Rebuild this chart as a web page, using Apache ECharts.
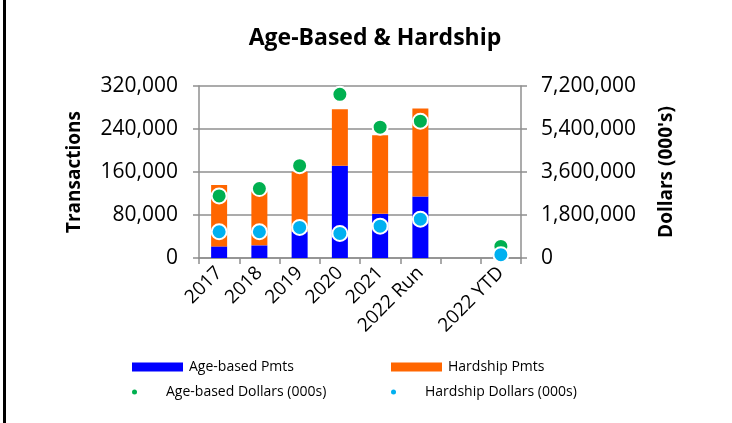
<!DOCTYPE html>
<html>
<head>
<meta charset="utf-8">
<script src="https://cdn.jsdelivr.net/npm/echarts@6/dist/echarts.min.js"></script>
<style>
  html, body { margin: 0; padding: 0; background: #fff; }
  #chart { width: 732px; height: 423px; }
</style>
</head>
<body>
<div id="chart"></div>
<script>
const categories = ['2017', '2018', '2019', '2020', '2021', '2022 Run', '', '2022 YTD']
const ageBasedPmts = [21600, 23500, 49400, 171700, 82200, 114300, null, 3000]
const hardshipPmts = [114300, 100000, 111200, 105100, 146400, 163700, null, 2000]
const ageBasedDollars = [2599000, 2905000, 3864000, 6852000, 5476000, 5726000, null, 486000]
const hardshipDollars = [1098000, 1098000, 1279000, 1029000, 1334000, 1626000, null, 139000]

const FONT = '"Open Sans", "Noto Sans", sans-serif'
const gray = '#8f8f8f'

const chart = echarts.init(document.getElementById('chart'))

// one legend per entry so they sit in a 2x2 block like the original
function legendItem(name, left, top, h, icon) {
  return {
    data: [{ name: name, icon: icon }],
    left: left,
    top: top,
    padding: 0,
    itemWidth: 51,
    itemHeight: h,
    itemGap: 0,
    selectedMode: false,
    itemStyle: { borderWidth: 0 },
    textStyle: { fontFamily: FONT, fontSize: 14, color: '#000', padding: [0, 0, 0, 1] }
  }
}

chart.setOption({
  animation: false,
  title: {
    text: 'Age-Based & Hardship',
    left: 370,
    textAlign: 'center',
    top: 22,
    textStyle: { fontFamily: FONT, fontSize: 23, fontWeight: 'bold', color: '#000' }
  },
  graphic: [
    { type: 'rect', shape: { x: 3, y: 0, width: 3, height: 423 }, style: { fill: '#000' } }
  ],
  legend: [
    legendItem('Age-based Pmts', 132, 360, 9, 'rect'),
    legendItem('Hardship Pmts', 391, 360, 9, 'rect'),
    legendItem('Age-based Dollars (000s)', 132, 385, 5, 'circle'),
    legendItem('Hardship Dollars (000s)', 391, 385, 5, 'circle')
  ],
  grid: { left: 199, right: 211, top: 86, bottom: 165 },
  xAxis: {
    type: 'category',
    data: categories,
    axisLine: { lineStyle: { color: gray, width: 1.5 } },
    axisTick: { show: true, length: 6, lineStyle: { color: gray, width: 1.5 } },
    axisLabel: {
      rotate: 45,
      interval: 0,
      margin: 12,
      fontFamily: FONT,
      fontSize: 19,
      color: '#000'
    }
  },
  yAxis: [
    {
      type: 'value',
      min: 0,
      max: 320000,
      interval: 80000,
      name: 'Transactions',
      nameLocation: 'middle',
      nameGap: 115,
      nameTextStyle: { fontFamily: FONT, fontSize: 19, fontWeight: 'bold', color: '#000' },
      axisLine: { show: true, lineStyle: { color: gray, width: 1.5 } },
      axisTick: { show: true, length: 6, lineStyle: { color: gray, width: 1.5 } },
      splitLine: { lineStyle: { color: gray, width: 1.5 } },
      axisLabel: {
        margin: 21,
        fontFamily: FONT,
        fontSize: 21,
        color: '#000',
        formatter: v => v.toLocaleString('en-US')
      }
    },
    {
      type: 'value',
      min: 0,
      max: 7200000,
      interval: 1800000,
      name: "Dollars (000's)",
      nameLocation: 'middle',
      nameGap: 136,
      nameRotate: 90,
      nameTextStyle: { fontFamily: FONT, fontSize: 19, fontWeight: 'bold', color: '#000' },
      axisLine: { show: true, lineStyle: { color: gray, width: 1.5 } },
      axisTick: { show: true, length: 6, lineStyle: { color: gray, width: 1.5 } },
      splitLine: { show: false },
      axisLabel: {
        margin: 20,
        fontFamily: FONT,
        fontSize: 21,
        color: '#000',
        formatter: v => v.toLocaleString('en-US')
      }
    }
  ],
  series: [
    {
      name: 'Age-based Pmts',
      type: 'bar',
      stack: 'pmts',
      barWidth: 16,
      itemStyle: { color: '#0000ff' },
      data: ageBasedPmts
    },
    {
      name: 'Hardship Pmts',
      type: 'bar',
      stack: 'pmts',
      barWidth: 16,
      itemStyle: { color: '#ff6600' },
      data: hardshipPmts
    },
    {
      name: 'Age-based Dollars (000s)',
      type: 'scatter',
      yAxisIndex: 1,
      symbolSize: 15,
      itemStyle: { color: '#00b050', borderColor: '#fff', borderWidth: 2, opacity: 1 },
      z: 3,
      data: ageBasedDollars
    },
    {
      name: 'Hardship Dollars (000s)',
      type: 'scatter',
      yAxisIndex: 1,
      symbolSize: 15,
      itemStyle: { color: '#00b0f0', borderColor: '#fff', borderWidth: 2, opacity: 1 },
      z: 4,
      data: hardshipDollars
    }
  ]
})
</script>
</body>
</html>
